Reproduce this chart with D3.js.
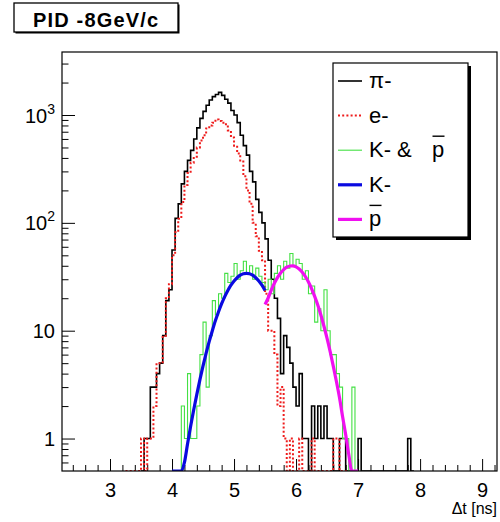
<!DOCTYPE html>
<html>
<head>
<meta charset="utf-8">
<script src="https://cdn.jsdelivr.net/npm/d3@7/dist/d3.min.js"></script>
<style>
body { margin: 0; background: #fff; }
text { font-family: "Liberation Sans", Arial, Helvetica, sans-serif; }
</style>
</head>
<body>
<div id="chart"></div>
<script>

// histogram bins are 0.05 ns wide, each array starts at the given lower edge
var binWidth = 0.05;

var piStart = 3.50;
var piCounts = [
	0, 1, 1, 3, 3, 4, 5, 9, 19, 24,
	56, 110, 150, 230, 300, 380, 470, 600, 760, 930,
	1080, 1230, 1380, 1480, 1550, 1620, 1520, 1400, 1290, 1100,
	1000, 850, 650, 520, 425, 300, 240, 165, 125, 100,
	71, 45, 30, 20, 13, 4, 9, 7, 5, 3,
	2, 4, 1, 1, 0, 2, 1, 2, 1, 2,
	1, 1, 0, 0, 1, 1, 0, 0, 0, 0,
	1, 0, 0, 0, 0, 0, 0, 0, 0, 0,
	0, 0, 0, 0, 0, 0, 1, 0
];

var eStart = 3.25;
var eCounts = [
	0, 0, 0, 0, 0, 1, 0, 1, 1, 2,
	5, 5, 9, 20, 27, 50, 82, 109, 156, 224,
	290, 360, 410, 500, 580, 650, 750, 800, 850, 910,
	880, 850, 820, 720, 620, 520, 440, 370, 270, 200,
	150, 100, 75, 55, 45, 22, 10, 10, 6, 2,
	3, 1, 0, 1, 0, 0, 1, 0, 0, 0,
	1, 0, 0, 0, 0, 0, 0, 1, 1, 0,
	0, 0
];

var kpStart = 4.10;
var kpCounts = [
	0, 2, 1, 4, 1, 1, 2, 6, 12, 3,
	9, 19, 14, 22, 20, 34, 28, 32, 42, 30,
	36, 44, 34, 40, 30, 38, 32, 28, 24, 30,
	22, 34, 40, 30, 44, 38, 52, 40, 46, 42,
	30, 36, 22, 26, 12, 16, 10, 24, 10, 6,
	6, 4, 3, 1, 1, 0, 3, 0
];

// fit curves, sampled every 0.05 ns
var kFitStart = 4.00;
var kFitValues = [0.10, 0.16, 0.26, 0.40, 0.60, 0.89, 1.30, 1.85, 2.57, 3.52,
	4.71, 6.19, 7.96, 10.0, 12.4, 15.0, 17.8, 20.7, 23.6, 26.4,
	28.9, 31.0, 32.7, 33.7, 34.0, 33.7, 32.7, 31.0, 28.9, 26.4, 23.6];

var pFitStart = 5.50;
var pFitValues = [17.5, 20.1, 23.8, 27.5, 31.1, 34.3, 36.9, 38.8, 39.8, 39.9,
	39.1, 37.3, 34.9, 31.8, 28.3, 24.6, 20.8, 17.3, 14.0, 11.0,
	8.5, 6.4, 4.7, 3.4, 2.4, 1.6, 1.09, 0.71, 0.45, 0.28, 0.17];

var xMajorTicks = [3, 4, 5, 6, 7, 8, 9];
var yMajorTicks = [1, 10, 100, 1000];
var yTickLabels = [["1", ""], ["10", ""], ["10", "2"], ["10", "3"]];
var legendLabels = ["π-", "e-", "K- &", "K-", ""];

var margin = {top: 52, right: 3, bottom: 51, left: 62},
	width = 500 - margin.left - margin.right,
	height = 522 - margin.top - margin.bottom;

var yMin = 0.5, yMax = 3840;

var svg = d3.select("#chart").append("svg")
	.attr("width", 500)
	.attr("height", 522);

svg.append("rect").attr("width", 500).attr("height", 522).attr("fill", "#fff");

var x = d3.scaleLinear().domain([2.226, 9.24]).range([0, width]);
var y = d3.scaleLog().domain([yMin, yMax]).range([height, 0]);

var g = svg.append("g")
	.attr("transform", "translate(" + margin.left + "," + margin.top + ")");

g.append("clipPath").attr("id", "frame-clip")
	.append("rect").attr("width", width).attr("height", height);

// ****************** axes (ticks point inward) ******************

var xMinor = d3.range(2.4, 9.21, 0.2).filter(function (t) {
	return Math.abs(t - Math.round(t)) > 0.01;
});

g.append("g")
	.attr("transform", "translate(0," + height + ")")
	.call(d3.axisBottom(x).tickValues(xMinor).tickSize(-6).tickFormat(""))
	.call(function (a) { a.select(".domain").remove(); });

var xAxis = g.append("g")
	.attr("transform", "translate(0," + height + ")")
	.call(d3.axisBottom(x).tickValues(xMajorTicks).tickSize(-12).tickFormat(d3.format("d")));
xAxis.select(".domain").remove();
xAxis.selectAll("text")
	.attr("font-size", 20)
	.attr("font-family", "Liberation Sans, Arial, sans-serif")
	.attr("dy", null)
	.attr("y", 26);

var yMinor = [0.6, 0.7, 0.8, 0.9];
[1, 10, 100, 1000].forEach(function (dec) {
	for (var k = 2; k <= 9; k++) {
		if (dec * k < yMax) yMinor.push(dec * k);
	}
});

g.append("g")
	.call(d3.axisLeft(y).tickValues(yMinor).tickSize(-6.5).tickFormat(""))
	.call(function (a) { a.select(".domain").remove(); });

var yAxis = g.append("g")
	.call(d3.axisLeft(y).tickValues(yMajorTicks).tickSize(-13).tickFormat(""));
yAxis.select(".domain").remove();

yAxis.selectAll(".tick").each(function (d, i) {
	var lab = yTickLabels[i];
	var t = d3.select(this).append("text")
		.attr("x", -7)
		.attr("y", 7)
		.attr("fill", "#000")
		.attr("text-anchor", "end")
		.attr("font-size", 20)
		.attr("font-family", "Liberation Sans, Arial, sans-serif");
	t.append("tspan").text(lab[0]);
	if (lab[1]) {
		t.append("tspan").attr("dy", -9).attr("font-size", 14).text(lab[1]);
	}
});

g.append("text")
	.attr("x", width)
	.attr("y", height + 43)
	.attr("text-anchor", "end")
	.attr("font-size", 16)
	.text("Δt [ns]");

// ****************** histograms ******************

function histPoints(start, counts) {
	var pts = [{t: start, v: yMin}];
	counts.forEach(function (c, i) {
		pts.push({t: start + i * binWidth, v: c});
	});
	pts.push({t: start + counts.length * binWidth, v: yMin});
	pts.push({t: start + counts.length * binWidth, v: yMin});
	return pts;
}

var stepLine = d3.line()
	.curve(d3.curveStepAfter)
	.x(function (d) { return x(d.t); })
	.y(function (d) { return y(Math.max(d.v, yMin)); });

var fitLine = d3.line()
	.curve(d3.curveMonotoneX)
	.x(function (d) { return x(d.t); })
	.y(function (d) { return y(Math.max(d.v, yMin)); });

function fitPoints(start, values) {
	return values.map(function (v, i) { return {t: start + i * binWidth, v: v}; });
}

var plot = g.append("g").attr("clip-path", "url(#frame-clip)");

plot.append("path")
	.attr("d", stepLine(histPoints(piStart, piCounts)))
	.attr("fill", "none").attr("stroke", "#000").attr("stroke-width", 1.6);

plot.append("path")
	.attr("d", stepLine(histPoints(eStart, eCounts)))
	.attr("fill", "none").attr("stroke", "#ee1c1c").attr("stroke-width", 2)
	.attr("stroke-dasharray", "2,2.2");

plot.append("path")
	.attr("d", stepLine(histPoints(kpStart, kpCounts)))
	.attr("fill", "none").attr("stroke", "#44e044").attr("stroke-width", 1.1);

plot.append("path")
	.attr("d", fitLine(fitPoints(kFitStart, kFitValues)))
	.attr("fill", "none").attr("stroke", "#0a0ae0").attr("stroke-width", 3.2);

plot.append("path")
	.attr("d", fitLine(fitPoints(pFitStart, pFitValues)))
	.attr("fill", "none").attr("stroke", "#f010f0").attr("stroke-width", 3.2);

// frame
g.append("rect")
	.attr("width", width).attr("height", height)
	.attr("fill", "none").attr("stroke", "#000").attr("stroke-width", 1.2);

// ****************** legend ******************

var legend = svg.append("g").attr("transform", "translate(333,63)");
legend.append("rect").attr("x", 3).attr("y", 3).attr("width", 135).attr("height", 174).attr("fill", "#000");
legend.append("rect").attr("width", 135).attr("height", 174)
	.attr("fill", "#fff").attr("stroke", "#000").attr("stroke-width", 1.2);

var legendStyles = [
	{stroke: "#000", w: 1.6, dash: null},
	{stroke: "#ee1c1c", w: 2, dash: "2,2.2"},
	{stroke: "#44e044", w: 1.1, dash: null},
	{stroke: "#0a0ae0", w: 3.2, dash: null},
	{stroke: "#f010f0", w: 3.2, dash: null}
];

legendStyles.forEach(function (s, i) {
	var cy = 18 + i * 34.6;
	legend.append("line")
		.attr("x1", 5).attr("x2", 29).attr("y1", cy).attr("y2", cy)
		.attr("stroke", s.stroke).attr("stroke-width", s.w)
		.attr("stroke-dasharray", s.dash);
	legend.append("text")
		.attr("x", 36).attr("y", cy + 7)
		.attr("font-size", 22)
		.text(legendLabels[i]);
});

// the p-bar entries: "p" with an overline
[{row: 2, px: 99}, {row: 4, px: 36}].forEach(function (e) {
	var cy = 18 + e.row * 34.6;
	legend.append("text")
		.attr("x", e.px).attr("y", cy + 7)
		.attr("font-size", 22)
		.text("p");
	legend.append("line")
		.attr("x1", e.px + 0.5).attr("x2", e.px + 12.5)
		.attr("y1", cy - 14).attr("y2", cy - 14)
		.attr("stroke", "#000").attr("stroke-width", 1.4);
});

// ****************** title ******************

var title = svg.append("g").attr("transform", "translate(14,3)");
title.append("rect").attr("x", 1.5).attr("y", 1.5).attr("width", 164).attr("height", 29).attr("fill", "#000");
title.append("rect").attr("width", 164).attr("height", 29)
	.attr("fill", "#fff").attr("stroke", "#000").attr("stroke-width", 1.3);
title.append("text")
	.attr("x", 19).attr("y", 23.5)
	.attr("font-size", 20).attr("font-weight", "bold")
	.attr("textLength", 125).attr("lengthAdjust", "spacing")
	.text("PID -8GeV/c");

</script>
</body>
</html>
